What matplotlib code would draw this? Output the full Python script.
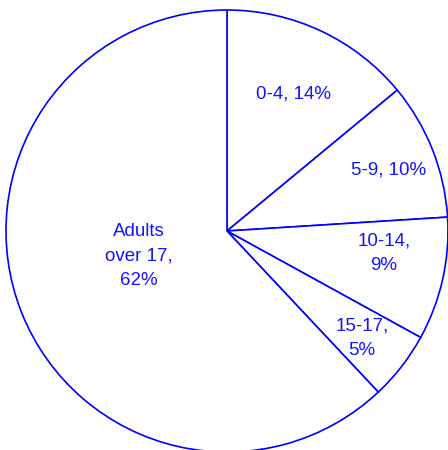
import matplotlib
matplotlib.use("Agg")
import matplotlib.pyplot as plt

# Age groups and their shares (%)
categories = ['0-4', '5-9', '10-14', '15-17', 'Adults over 17']
shares = [14, 10, 9, 5, 62]
labels = ['0-4, 14%', '5-9, 10%', '10-14,\n9%', '15-17,\n5%', 'Adults\nover 17,\n62%']

# where each label sits (fraction of radius, x / y)
label_pos = [(0.30, 0.62), (0.73, 0.276), (0.71, -0.10), (0.61, -0.484), (-0.40, -0.113)]

plt.rcParams['font.family'] = ['Liberation Sans', 'DejaVu Sans']

fig = plt.figure(figsize=(4.48, 4.50), dpi=100)
ax = fig.add_axes([6 / 448, -2 / 450, 442 / 448, 442 / 450])

ax.pie(shares, startangle=90, counterclock=False, radius=1,
       wedgeprops=dict(facecolor='white', edgecolor='#0000ff', linewidth=1.2))

for txt, (x, y) in zip(labels, label_pos):
    ax.text(x, y, txt, ha='center', va='center', color='#1414ff',
            fontsize=13.5, linespacing=1.6)

ax.set_xlim(-1, 1)
ax.set_ylim(-1, 1)
ax.set_aspect('auto')
ax.axis('off')

fig.savefig('out.png', dpi=100)
